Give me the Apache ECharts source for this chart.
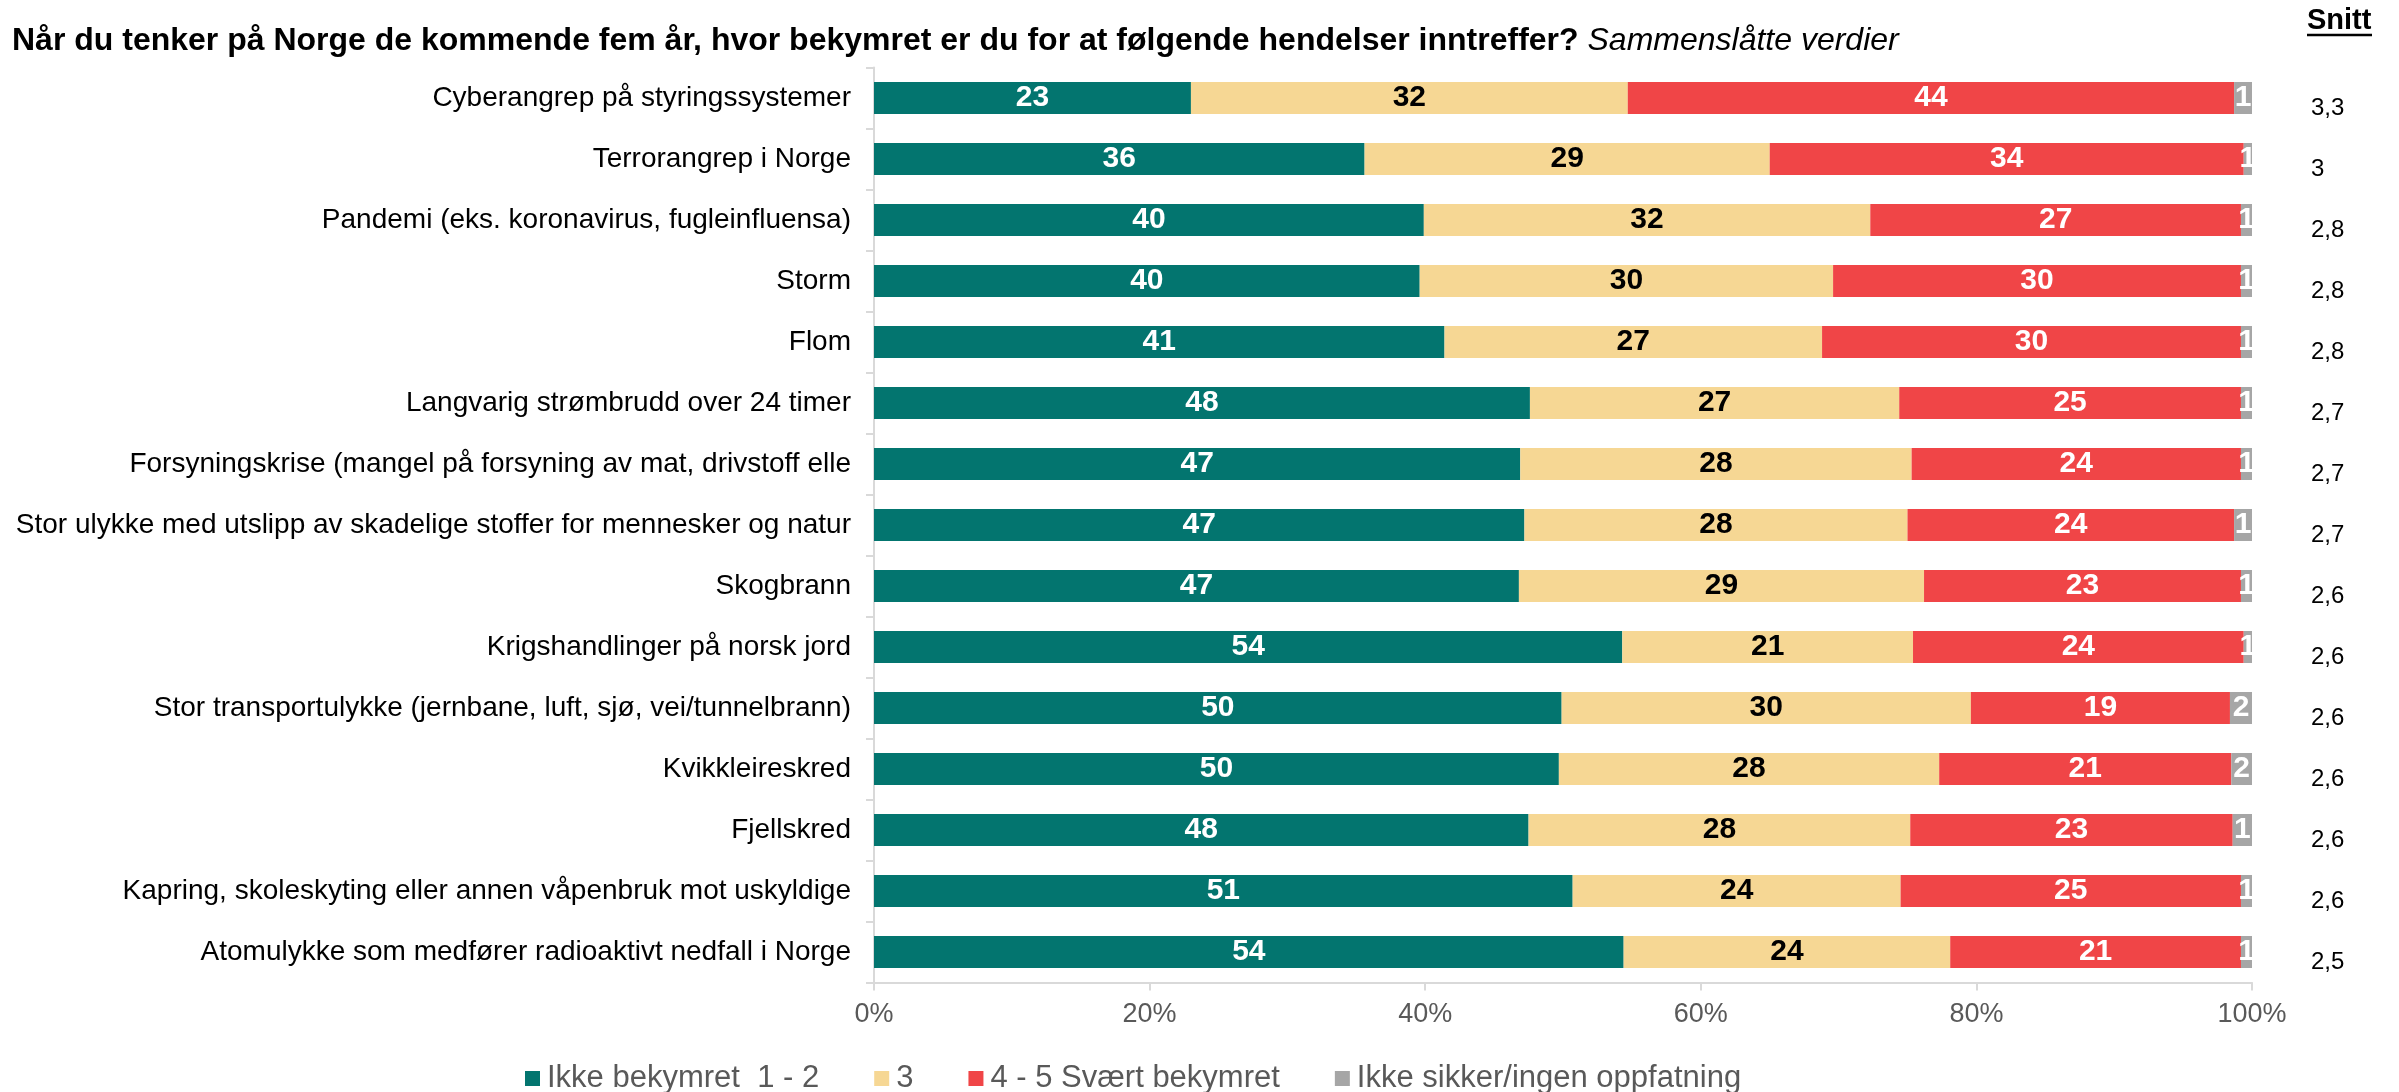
<!DOCTYPE html>
<html>
<head>
<meta charset="utf-8">
<script src="https://cdn.jsdelivr.net/npm/echarts@6/dist/echarts.min.js"></script>
<style>
html,body{margin:0;padding:0;background:#fff;overflow:hidden;}
#chart{width:2399px;height:1092px;}
</style>
</head>
<body>
<div id="chart"></div>
<script>
const categories = [
  "Cyberangrep på styringssystemer",
  "Terrorangrep i Norge",
  "Pandemi (eks. koronavirus, fugleinfluensa)",
  "Storm",
  "Flom",
  "Langvarig strømbrudd over 24 timer",
  "Forsyningskrise (mangel på forsyning av mat, drivstoff elle",
  "Stor ulykke med utslipp av skadelige stoffer for mennesker og natur",
  "Skogbrann",
  "Krigshandlinger på norsk jord",
  "Stor transportulykke (jernbane, luft, sjø, vei/tunnelbrann)",
  "Kvikkleireskred",
  "Fjellskred",
  "Kapring, skoleskyting eller annen våpenbruk mot uskyldige",
  "Atomulykke som medfører radioaktivt nedfall i Norge"
];
const ikkeBekymret = [23.0, 35.6, 39.9, 39.6, 41.4, 47.6, 46.9, 47.2, 46.8, 54.3, 49.9, 49.7, 47.5, 50.7, 54.4];
const tre          = [31.7, 29.4, 32.4, 30.0, 27.4, 26.8, 28.4, 27.8, 29.4, 21.1, 29.7, 27.6, 27.7, 23.8, 23.7];
const svaertBekymret = [44.0, 34.4, 26.9, 29.6, 30.4, 24.8, 23.9, 23.7, 23.0, 24.0, 18.8, 21.2, 23.4, 24.7, 21.1];
const ikkeSikker   = [1.3, 0.6, 0.8, 0.8, 0.8, 0.8, 0.8, 1.3, 0.8, 0.6, 1.6, 1.5, 1.4, 0.8, 0.8];
const snitt = ["3,3", "3", "2,8", "2,8", "2,8", "2,7", "2,7", "2,7", "2,6", "2,6", "2,6", "2,6", "2,6", "2,6", "2,5"];
const seriesNames = ["Ikke bekymret  1 - 2", "3", "4 - 5 Svært bekymret", "Ikke sikker/ingen oppfatning"];
const xTicks = [0, 20, 40, 60, 80, 100];
const titleMain = "Når du tenker på Norge de kommende fem år, hvor bekymret er du for at følgende hendelser inntreffer?";
const titleSub = "Sammenslåtte verdier";
const snittHeader = "Snitt";

const FONT = "'Liberation Sans', Arial, sans-serif";
const colors = ["#03756F", "#F6D794", "#F04547", "#A6A6A6"];
const labelColors = ["#fff", "#000", "#fff", "#fff"];
const dataSets = [ikkeBekymret, tre, svaertBekymret, ikkeSikker];

const chart = echarts.init(document.getElementById('chart'), null, {renderer: 'canvas'});

const series = dataSets.map((d, i) => ({
  name: seriesNames[i],
  type: 'bar',
  stack: 'total',
  yAxisIndex: 0,
  barWidth: 32,
  data: d,
  itemStyle: {color: colors[i]},
  label: {
    show: true,
    position: 'inside',
    color: labelColors[i],
    fontFamily: FONT,
    fontWeight: 'bold',
    fontSize: 30,
    formatter: p => Math.round(p.value)
  },
  emphasis: {disabled: true}
}));

chart.setOption({
  animation: false,
  backgroundColor: '#fff',
  color: colors,
  legend: {
    left: 520,
    top: 1058,
    itemWidth: 15,
    itemHeight: 15,
    itemGap: 55,
    icon: 'rect',
    data: seriesNames,
    textStyle: {fontFamily: FONT, fontSize: 31, color: '#595959', padding: [0, 0, 0, 2]}
  },
  grid: {left: 874, right: 147, top: 67.5, bottom: 109.5, containLabel: false},
  xAxis: {
    type: 'value',
    min: 0,
    max: 100,
    interval: 20,
    axisLine: {show: true, lineStyle: {color: '#D9D9D9', width: 2}},
    axisTick: {show: true, length: 8, lineStyle: {color: '#D9D9D9', width: 2}},
    splitLine: {show: false},
    axisLabel: {
      margin: 19,
      fontFamily: FONT,
      fontSize: 27,
      color: '#595959',
      formatter: v => xTicks.includes(v) ? v + '%' : ''
    }
  },
  yAxis: [
    {
      type: 'category',
      data: categories,
      inverse: true,
      axisLine: {show: true, lineStyle: {color: '#D9D9D9', width: 2}},
      axisTick: {show: true, length: 8, lineStyle: {color: '#D9D9D9', width: 2}},
      axisLabel: {margin: 23, fontFamily: FONT, fontSize: 28, color: '#000'}
    },
    {
      type: 'category',
      data: snitt,
      inverse: true,
      position: 'right',
      axisLine: {show: false},
      axisTick: {show: false},
      axisLabel: {margin: 59, fontFamily: FONT, fontSize: 24, color: '#000', verticalAlign: 'top', lineHeight: 20}
    }
  ],
  graphic: [
    {
      type: 'text',
      x: 12,
      y: 41,
      style: {
        text: '{b|' + titleMain + ' }{i|' + titleSub + '}',
        verticalAlign: 'middle',
        rich: {
          b: {fontFamily: FONT, fontWeight: 'bold', fontSize: 32, fill: '#000'},
          i: {fontFamily: FONT, fontStyle: 'italic', fontSize: 32, fill: '#000'}
        }
      }
    },
    {
      type: 'text',
      x: 2307,
      y: 21,
      style: {text: snittHeader, fontFamily: FONT, fontWeight: 'bold', fontSize: 29, fill: '#000', verticalAlign: 'middle'}
    },
    {
      type: 'line',
      shape: {x1: 2307, y1: 35, x2: 2372, y2: 35},
      style: {stroke: '#000', lineWidth: 2.5}
    }
  ],
  series: series
});
</script>
</body>
</html>
